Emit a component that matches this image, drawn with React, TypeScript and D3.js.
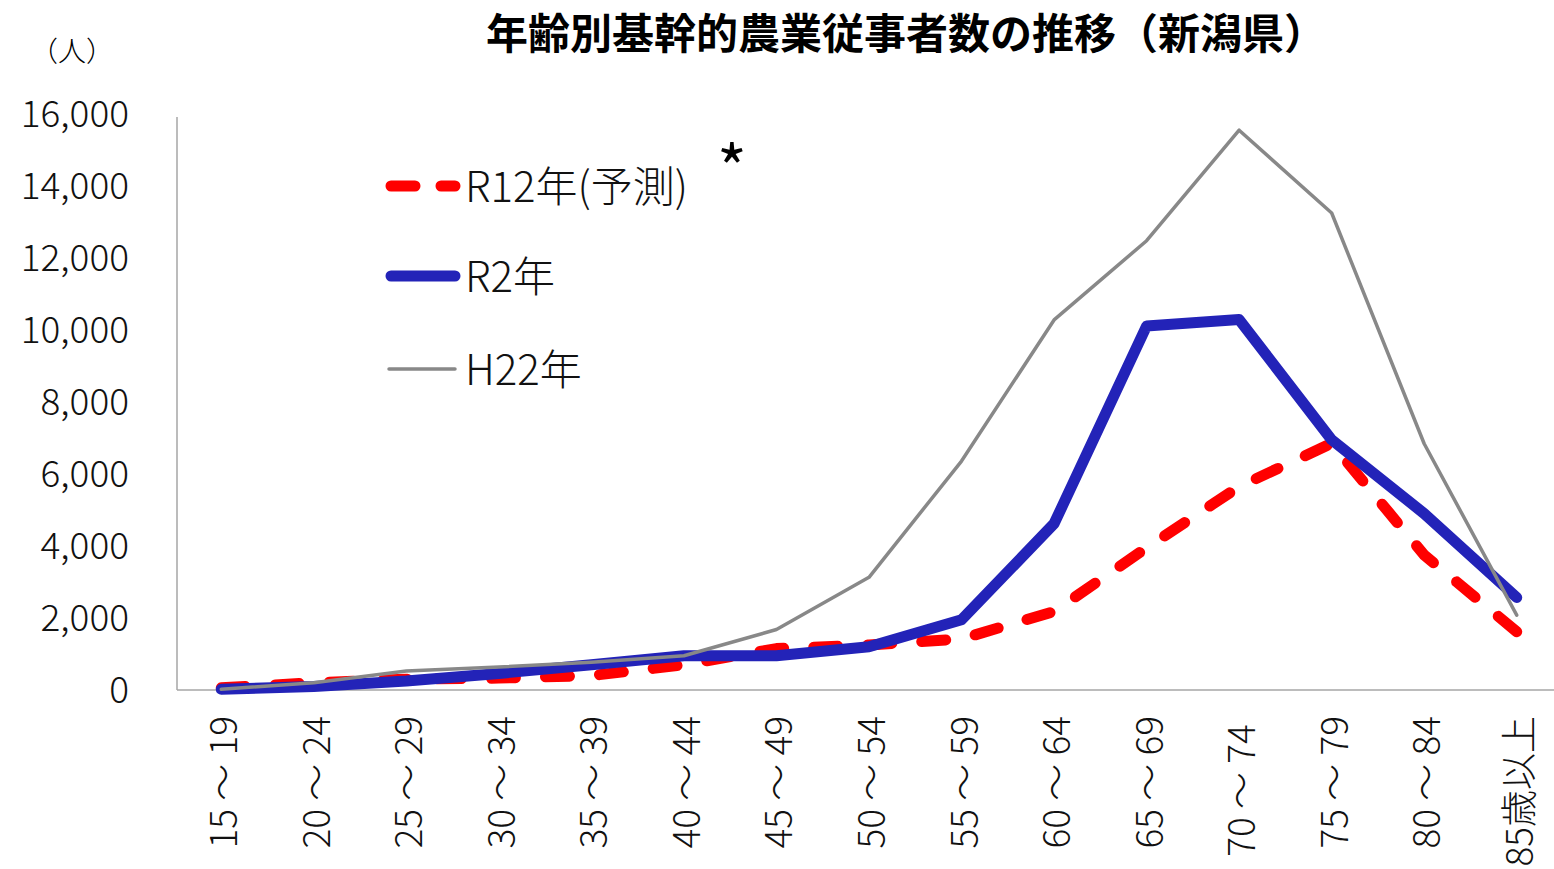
import React, { useEffect, useRef } from "react";
import * as d3 from "d3";

const categories = [
  "15 ～ 19", "20 ～ 24", "25 ～ 29", "30 ～ 34", "35 ～ 39", "40 ～ 44", "45 ～ 49",
  "50 ～ 54", "55 ～ 59", "60 ～ 64", "65 ～ 69", "70 ～ 74 ", "75 ～ 79", "80 ～ 84", "85歳以上",
];
const r12Values = [60, 200, 300, 330, 400, 700, 1150, 1250, 1420, 2180, 3950, 5650, 6850, 3750, 1620];
const r2Values = [20, 100, 250, 460, 700, 950, 950, 1200, 1950, 4620, 10110, 10290, 6950, 4900, 2570];
const h22Values = [20, 200, 530, 640, 770, 950, 1680, 3130, 6360, 10280, 12480, 15550, 13250, 6840, 2080];
const yTicks = [0, 2000, 4000, 6000, 8000, 10000, 12000, 14000, 16000];
const seriesNames = ["R12年(予測)", "R2年", "H22年"];
const title = "年齢別基幹的農業従事者数の推移（新潟県）";
const unitLabel = "（人）";

const W = 1554;
const H = 869;
const FONT = "'Noto Sans CJK JP', 'Noto Sans', sans-serif";

export default function App() {
  const redRef = useRef<SVGPathElement>(null);
  const x = d3.scalePoint<string>().domain(categories).range([175, 1563]).padding(0.5);
  const y = d3.scaleLinear().domain([0, 16000]).range([690, 114]);
  const line = (vals: number[]) =>
    d3.line<number>().x((_, i) => x(categories[i]) as number).y((v) => y(v))(vals) as string;
  const fmt = d3.format(",");

  useEffect(() => {
    const p = redRef.current;
    if (!p) return;
    const L = p.getTotalLength();
    const dash = 24;
    const n = Math.max(2, Math.round((L + 31) / 55));
    const gap = (L - n * dash) / (n - 1);
    p.setAttribute("stroke-dasharray", `${dash} ${gap}`);
  }, []);

  const legendItems = [
    { name: seriesNames[0], color: "#ff0000", width: 11, dash: "24 26", y: 186 },
    { name: seriesNames[1], color: "#2323b8", width: 11, dash: "", y: 276 },
    { name: seriesNames[2], color: "#888888", width: 3.5, dash: "", y: 369 },
  ];

  return (
    <svg width={W} height={H} style={{ display: "block", position: "absolute", left: 0, top: 0 }} fontFamily={FONT}>
      <rect width={W} height={H} fill="#ffffff" />
      <text x={906} y={30} textAnchor="middle" dominantBaseline="central" fontSize={42} fontWeight="bold" fill="#000">
        {title}
      </text>
      <text x={72} y={50} textAnchor="middle" dominantBaseline="central" fontSize={28} fontWeight={300} fill="#000">
        {unitLabel}
      </text>
      {yTicks.map((t) => (
        <text key={t} x={129} y={y(t) - 3} textAnchor="end" dominantBaseline="central" fontSize={37} fontWeight={300} fill="#111">
          {fmt(t)}
        </text>
      ))}
      <line x1={177} x2={177} y1={117} y2={690} stroke="#a6a6a6" strokeWidth={1.5} />
      <line x1={177} x2={W} y1={690} y2={690} stroke="#a6a6a6" strokeWidth={1.5} />
      {categories.map((c) => (
        <text
          key={c}
          transform={`translate(${x(c)},716) rotate(-90)`}
          textAnchor="end"
          dominantBaseline="central"
          fontSize={37}
          fontWeight={300}
          fill="#111"
          style={{ whiteSpace: "pre" }}
        >
          {c}
        </text>
      ))}
      <path ref={redRef} d={line(r12Values)} fill="none" stroke="#ff0000" strokeWidth={11} strokeDasharray="24 31" strokeLinecap="round" strokeLinejoin="round" />
      <path d={line(r2Values)} fill="none" stroke="#2323b8" strokeWidth={11} strokeLinecap="round" strokeLinejoin="round" />
      <path d={line(h22Values)} fill="none" stroke="#888888" strokeWidth={3.5} strokeLinecap="round" strokeLinejoin="round" />
      {legendItems.map((it) => (
        <g key={it.name}>
          <line
            x1={it.width > 5 ? 391 : 389}
            x2={455}
            y1={it.y}
            y2={it.y}
            stroke={it.color}
            strokeWidth={it.width}
            strokeLinecap="round"
            strokeDasharray={it.dash || undefined}
          />
          <text x={465} y={it.y - 3} dominantBaseline="central" fontSize={42} fontWeight={300} fill="#111">
            {it.name}
          </text>
        </g>
      ))}
      <text x={732} y={193} textAnchor="middle" fontSize={64} fill="#000">
        *
      </text>
    </svg>
  );
}
